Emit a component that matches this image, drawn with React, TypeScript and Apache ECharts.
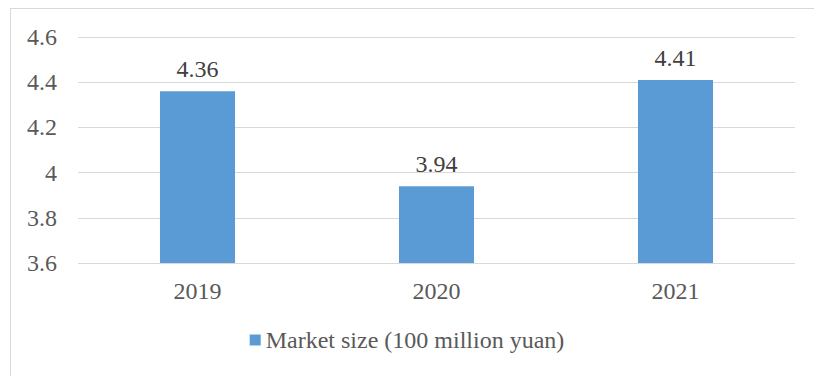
import React, { useEffect, useRef } from "react";
import * as echarts from "echarts";

const categories = ["2019", "2020", "2021"];
const marketSize = [4.36, 3.94, 4.41];
const seriesName = "Market size (100 million yuan)";
const yMin = 3.6;
const yMax = 4.6;
const yInterval = 0.2;

export default function App() {
  const ref = useRef<HTMLDivElement>(null);
  useEffect(() => {
    if (!ref.current) return;
    const chart = echarts.init(ref.current, undefined, { renderer: "svg" });
    const font = "Liberation Serif, Times New Roman, serif";
    chart.setOption({
      animation: false,
      backgroundColor: "#ffffff",
      textStyle: { fontFamily: font },
      grid: { left: 78, right: 19, top: 37, bottom: 113, containLabel: false },
      legend: {
        data: [seriesName],
        bottom: 19,
        left: "center",
        icon: "rect",
        itemWidth: 11,
        itemHeight: 11,
        textStyle: { fontFamily: font, fontSize: 24, color: "#595959" },
      },
      xAxis: {
        type: "category",
        data: categories,
        axisLine: { show: false },
        axisTick: { show: false },
        axisLabel: { fontFamily: font, fontSize: 24, color: "#595959", margin: 16 },
      },
      yAxis: {
        type: "value",
        min: yMin,
        max: yMax,
        interval: yInterval,
        axisLine: { show: false },
        axisTick: { show: false },
        splitLine: { lineStyle: { color: "#d9d9d9", width: 1 } },
        axisLabel: {
          fontFamily: font,
          fontSize: 24,
          color: "#595959",
          margin: 21,
          formatter: (v: number) => String(parseFloat(v.toFixed(2))),
        },
      },
      series: [
        {
          name: seriesName,
          type: "bar",
          data: marketSize,
          barWidth: "31.4%",
          itemStyle: { color: "#5B9BD5" },
          label: {
            show: true,
            position: "top",
            distance: 10,
            fontFamily: font,
            fontSize: 24,
            color: "#404040",
          },
        },
      ],
    });
    return () => chart.dispose();
  }, []);
  return (
    <div style={{ position: "absolute", left: 0, top: 0, width: 814, height: 376, background: "#fff", overflow: "hidden" }}>
      <div ref={ref} style={{ position: "absolute", left: 0, top: 0, width: 814, height: 376 }} />
      <div
        style={{
          position: "absolute",
          left: 10,
          top: 8,
          width: 820,
          height: 380,
          border: "1px solid #d9d9d9",
          pointerEvents: "none",
        }}
      />
    </div>
  );
}
